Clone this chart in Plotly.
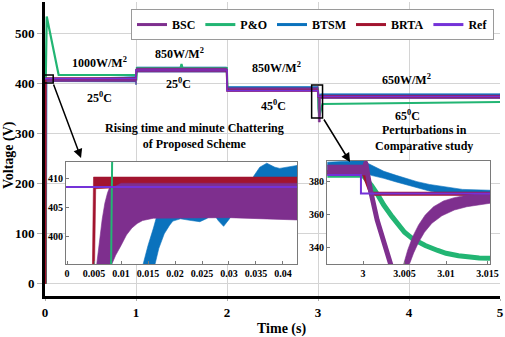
import plotly.graph_objects as go

# ---------------- colours ----------------
C_BSC = "#7E2F8E"
C_PO = "#22B573"
C_BTSM = "#0A72BD"
C_BRTA = "#A2142F"
C_REF = "#7432D8"

names = ["BSC", "P&O", "BTSM", "BRTA", "Ref"]
colors = [C_BSC, C_PO, C_BTSM, C_BRTA, C_REF]

# ---------------- main plot data (time s, voltage V) ----------------
t_ref = [0, 1, 1, 2, 2, 3, 3, 5]
v_ref = [408.6, 408.6, 426, 426, 384.5, 384.5, 373, 373]

# BSC chattering envelope (upper / lower edge)
bsc_up_t = [0, 0.0055, 0.009, 0.999, 1.0, 1.006, 1.997, 2.003, 2.9995, 3.0005, 3.004, 3.025, 3.03, 5]
bsc_up_v = [0, 0, 411, 411, 404, 430, 430, 390.3, 390.3, 393, 322, 322, 376, 376]
bsc_lo_t = [0, 0.0083, 0.016, 0.999, 1.0, 1.01, 1.997, 2.006, 2.9995, 3.03, 5]
bsc_lo_v = [0, 0, 403, 403, 397, 422, 422, 384, 384, 369, 369]

# BTSM chattering envelope
btsm_up_t = [0, 0.0141, 0.02, 0.999, 1.0, 1.006, 1.997, 2.003, 3.0, 3.005, 3.012, 3.03, 5]
btsm_up_v = [0, 0, 406, 413, 406, 432, 432, 393, 393, 382, 375.5, 378.5, 378.5]
btsm_lo_t = [0, 0.0163, 0.02, 0.999, 1.0, 1.01, 1.997, 2.006, 3.0, 3.005, 3.012, 3.03, 5]
btsm_lo_v = [0, 0, 403, 402, 396, 422, 422, 384, 386, 378, 372, 369.5, 369.5]

t_po = [0, 0.0079, 0.0086, 0.019, 0.15, 0.999, 1.003, 1.01, 1.49, 1.5, 1.51, 1.997, 2.006,
        2.9995, 3.005, 3.015, 3.03, 3.05, 5]
v_po = [0, 0, 410, 533, 416, 416, 405, 430, 430, 438, 430, 430, 388,
        388, 349, 334, 345, 358, 362]

t_brta = [0, 0.0048, 0.0050, 0.999, 1.003, 1.997, 2.003, 3.0, 3.001, 5]
v_brta = [0, 0, 408.6, 408.6, 426, 426, 384.5, 384.5, 373, 373]

# ---------------- inset 1 (0 - 0.043 s) ----------------
i1_btsm_up_t = [0.0141, 0.015, 0.016, 0.0166, 0.018, 0.0196, 0.021, 0.023, 0.0246, 0.026, 0.027,
                0.028, 0.029, 0.030, 0.0308, 0.032, 0.0333, 0.0346, 0.0357, 0.037, 0.0385,
                0.0394, 0.041, 0.0426]
i1_btsm_up_v = [395.3, 398.5, 401.5, 403.5, 404.5, 405, 405, 405, 405, 405.5, 406,
                406, 405.5, 406, 406.5, 407, 408, 410.5, 412, 412.7, 412,
                411.8, 412, 412.3]
i1_btsm_lo_t = [0.0163, 0.017, 0.018, 0.019, 0.0196, 0.021, 0.023, 0.0246, 0.026, 0.027, 0.028,
                0.029, 0.0300, 0.0308, 0.032, 0.0333, 0.0346, 0.036, 0.0426]
i1_btsm_lo_v = [395.3, 398, 400.5, 402, 402.7, 403.1, 402.8, 402.6, 403.2, 404.2, 402.8,
                401.8, 403.0, 404.1, 403.6, 404.7, 405.5, 406, 406]

i1_bsc_up_t = [0.0055, 0.006, 0.0065, 0.007, 0.0075, 0.008, 0.009, 0.0426]
i1_bsc_up_v = [395.3, 399.5, 403, 405.8, 407.6, 408.8, 409.6, 409.6]
i1_bsc_lo_t = [0.0083, 0.009, 0.010, 0.011, 0.012, 0.013, 0.014, 0.016, 0.030, 0.0426]
i1_bsc_lo_v = [395.3, 396.8, 398.5, 400.3, 401.5, 402.3, 402.8, 403.2, 403.3, 402.9]

i1_brta_up_t = [0.0047, 0.0049, 0.0426]
i1_brta_up_v = [395.3, 410.3, 410.3]
i1_brta_lo_t = [0.0051, 0.0053, 0.008, 0.010, 0.0426]
i1_brta_lo_v = [395.3, 408.3, 408.4, 409.3, 409.3]

i1_po_t = [0.0081, 0.0084]
i1_po_v = [390, 418]

i1_ref_t = [-0.0002, 0.0426]
i1_ref_v = [408.6, 408.6]

# ---------------- inset 2 (2.996 - 3.015 s) ----------------
i2_btsm_up_t = [2.9957, 2.9985, 3.0, 3.0005, 3.0015, 3.0025, 3.004, 3.005, 3.0065, 3.008, 3.01,
                3.012, 3.0153]
i2_btsm_up_v = [392.0, 392.5, 393.0, 391.5, 389, 386.5, 384, 382.3, 380.2, 378.5, 376.8,
                375.5, 375]
i2_btsm_lo_t = [2.9957, 3.0, 3.001, 3.0025, 3.004, 3.005, 3.0065, 3.008, 3.01, 3.012, 3.0153]
i2_btsm_lo_v = [386, 386, 384, 382.2, 380, 378.2, 376.5, 374.5, 372.5, 372, 372.3]

i2_po_t = [2.9957, 3.0, 3.0005, 3.001, 3.0018, 3.0025, 3.0035, 3.005, 3.006, 3.0075, 3.009,
           3.01, 3.0115, 3.0125, 3.014, 3.0153]
i2_po_v = [384.0, 384.0, 381, 378, 372, 366, 359, 349.5, 345.5, 341.5, 338.5,
           336.8, 335.3, 334.6, 334, 333.8]

i2_brta_t = [2.9957, 3.0001, 3.0010, 3.0153]
i2_brta_v = [386, 385, 372.8, 372.8]

i2_bsc_pre_up_t = [2.9957, 3.0, 3.0002, 3.0005]
i2_bsc_pre_up_v = [390.3, 390.3, 393, 393]
i2_bsc_pre_lo_t = [2.9957, 3.0005]
i2_bsc_pre_lo_v = [384.2, 384.2]

i2_bsc_fall_t = [3.0003, 3.0009, 3.0017, 3.0025, 3.0034]
i2_bsc_fall_v = [392, 375, 357, 343, 329]

i2_bsc_rise_up_t = [3.0049, 3.0054, 3.006, 3.0067, 3.0075, 3.0085, 3.0097, 3.011, 3.0125, 3.014, 3.0153]
i2_bsc_rise_up_v = [330.3, 339, 347, 354, 360, 365, 368.5, 370.5, 372, 372.8, 373.2]
i2_bsc_rise_lo_t = [3.0056, 3.0061, 3.0067, 3.0074, 3.0083, 3.0095, 3.011, 3.0125, 3.014, 3.0153]
i2_bsc_rise_lo_v = [330.3, 337, 343.5, 349.5, 355, 359.5, 363, 365, 366.3, 367.1]

i2_ref_t = [2.9957, 2.99975, 2.99975, 3.0153]
i2_ref_v = [384.2, 384.2, 373, 373]

# ---------------- axis ranges / ticks ----------------
X_MAIN = [0, 5]
Y_MAIN = [-26, 562]
X_TICKS = [0, 1, 2, 3, 4, 5]
Y_TICKS = [0, 100, 200, 300, 400, 500]
X_I1 = [-0.0002, 0.0426]
Y_I1 = [395.3, 412.9]
X_I1_TICKS = [0, 0.005, 0.01, 0.015, 0.02, 0.025, 0.03, 0.035, 0.04]
X_I1_TEXT = ["0", "0.005", "0.01", "0.015", "0.02", "0.025", "0.03", "0.035", "0.04"]
Y_I1_TICKS = [400, 405, 410]
X_I2 = [2.99566, 3.0153]
Y_I2 = [330.3, 392.7]
X_I2_TICKS = [3, 3.005, 3.01, 3.015]
X_I2_TEXT = ["3", "3.005", "3.01", "3.015"]
Y_I2_TICKS = [340, 360, 380]

FONT = "Liberation Serif, Times New Roman, Times, serif"

fig = go.Figure()

# legend-only entries
for n, c in zip(names, colors):
    fig.add_trace(go.Scatter(x=[None], y=[None], mode="lines", name=n,
                             line=dict(color=c, width=3)))


def line(x, y, c, w, xa="x", ya="y"):
    fig.add_trace(go.Scatter(x=x, y=y, mode="lines", line=dict(color=c, width=w),
                             xaxis=xa, yaxis=ya, showlegend=False, hoverinfo="skip"))


def band(tu, vu, tl, vl, c, xa="x", ya="y"):
    # polygon: upper edge left->right, lower edge right->left
    fig.add_trace(go.Scatter(x=list(tu) + list(tl)[::-1], y=list(vu) + list(vl)[::-1],
                             mode="lines", fill="toself", fillcolor=c,
                             line=dict(color=c, width=0.6),
                             xaxis=xa, yaxis=ya, showlegend=False, hoverinfo="skip"))


# main traces
band(btsm_up_t, btsm_up_v, btsm_lo_t, btsm_lo_v, C_BTSM)
line(t_po, v_po, C_PO, 2.2)
band(bsc_up_t, bsc_up_v, bsc_lo_t, bsc_lo_v, C_BSC)
line(t_brta, v_brta, C_BRTA, 2)
line(t_ref, v_ref, C_REF, 1.5)

# inset 1
band(i1_btsm_up_t, i1_btsm_up_v, i1_btsm_lo_t, i1_btsm_lo_v, C_BTSM, "x2", "y2")
band(i1_bsc_up_t, i1_bsc_up_v, i1_bsc_lo_t, i1_bsc_lo_v, C_BSC, "x2", "y2")
band(i1_brta_up_t, i1_brta_up_v, i1_brta_lo_t, i1_brta_lo_v, C_BRTA, "x2", "y2")
line(i1_po_t, i1_po_v, C_PO, 2, "x2", "y2")
line(i1_ref_t, i1_ref_v, C_REF, 2, "x2", "y2")

# inset 2
band(i2_btsm_up_t, i2_btsm_up_v, i2_btsm_lo_t, i2_btsm_lo_v, C_BTSM, "x3", "y3")
line(i2_po_t, i2_po_v, C_PO, 5, "x3", "y3")
line(i2_brta_t, i2_brta_v, C_BRTA, 4, "x3", "y3")
band(i2_bsc_pre_up_t, i2_bsc_pre_up_v, i2_bsc_pre_lo_t, i2_bsc_pre_lo_v, C_BSC, "x3", "y3")
line(i2_bsc_fall_t, i2_bsc_fall_v, C_BSC, 5, "x3", "y3")
band(i2_bsc_rise_up_t, i2_bsc_rise_up_v, i2_bsc_rise_lo_t, i2_bsc_rise_lo_v, C_BSC, "x3", "y3")
line(i2_ref_t, i2_ref_v, C_REF, 2, "x3", "y3")

tickf = dict(family=FONT, size=13, color="black", weight="bold")
insetf = dict(family=FONT, size=10, color="black", weight="bold")

inset_common = dict(showline=True, linecolor="#7a7a7a", linewidth=1, mirror=True,
                    ticks="inside", ticklen=3, tickcolor="#7a7a7a", showgrid=False,
                    zeroline=False, tickfont=insetf, automargin=False)

fig.update_layout(
    width=505, height=337,
    margin=dict(l=45, r=5, t=2, b=41),
    paper_bgcolor="white", plot_bgcolor="white",
    font=dict(family=FONT, size=12, color="black", weight="bold"),
    legend=dict(orientation="h", x=0.189, y=0.976, xanchor="left", yanchor="top",
                bgcolor="white", bordercolor="#9a9a9a", borderwidth=1,
                font=dict(family=FONT, size=12, color="black", weight="bold")),
    xaxis=dict(domain=[0, 1], range=X_MAIN, tickvals=X_TICKS, showgrid=True,
               gridcolor="#d4d4d4", gridwidth=1, showline=True, linewidth=3,
               linecolor="black", ticks="outside", ticklen=2, tickcolor="#b0b0b0",
               zeroline=False, tickfont=tickf, layer="below traces", automargin=False),
    yaxis=dict(domain=[0, 1], range=Y_MAIN, tickvals=Y_TICKS, showgrid=True,
               gridcolor="#d4d4d4", gridwidth=1, showline=True, linewidth=3,
               linecolor="black", ticks="outside", ticklen=5, tickcolor="#b0b0b0",
               zeroline=False, tickfont=tickf, layer="below traces", automargin=False),
    xaxis2=dict(domain=[0.04615, 0.55385], anchor="y2", range=X_I1,
                tickvals=X_I1_TICKS, ticktext=X_I1_TEXT, **inset_common),
    yaxis2=dict(domain=[0.10884, 0.45578], anchor="x2", range=Y_I1,
                tickvals=Y_I1_TICKS, **inset_common),
    xaxis3=dict(domain=[0.61978, 0.97802], anchor="y3", range=X_I2,
                tickvals=X_I2_TICKS, ticktext=X_I2_TEXT, **inset_common),
    yaxis3=dict(domain=[0.10884, 0.45918], anchor="x3", range=Y_I2,
                tickvals=Y_I2_TICKS, **inset_common),
)


def px_(t):
    return (t - X_MAIN[0]) / (X_MAIN[1] - X_MAIN[0])


def py_(v):
    return (v - Y_MAIN[0]) / (Y_MAIN[1] - Y_MAIN[0])


# zoom boxes
for (t0, t1, v0, v1) in [(-0.02, 0.09, 400, 416), (2.93, 3.05, 330, 396)]:
    fig.add_shape(type="rect", xref="paper", yref="paper",
                  x0=px_(t0), x1=px_(t1), y0=py_(v0), y1=py_(v1),
                  line=dict(color="black", width=1.5), fillcolor="rgba(0,0,0,0)")

annf = dict(family=FONT, size=12, color="black", weight="bold")
texts = [
    ("1000W/M<sup>2</sup>", 0.604, 442),
    ("25<sup>0</sup>C", 0.599, 372),
    ("850W/M<sup>2</sup>", 1.473, 460),
    ("25<sup>0</sup>C", 1.462, 400),
    ("850W/M<sup>2</sup>", 2.549, 431),
    ("45<sup>0</sup>C", 2.516, 356),
    ("650W/M<sup>2</sup>", 3.967, 408),
    ("65<sup>0</sup>C", 3.978, 336),
    ("Rising time and minute Chattering<br>of Proposed Scheme", 1.643, 295),
    ("Perturbations in<br>Comparative study", 4.170, 291),
]
for txt, tx, ty in texts:
    fig.add_annotation(x=tx, y=ty, xref="x", yref="y", text=txt, showarrow=False,
                       font=annf, xanchor="center", yanchor="middle")

# arrows
for (hx, hy, tx, ty) in [(0.396, 250, 0.088, 400), (3.352, 242, 3.055, 330)]:
    fig.add_annotation(x=hx, y=hy, xref="x", yref="y", ax=tx, ay=ty, axref="x", ayref="y",
                       text="", showarrow=True, arrowhead=2, arrowsize=1.2,
                       arrowwidth=1.5, arrowcolor="black")

# axis titles
fig.add_annotation(x=-0.0791, y=0.4796, xref="paper", yref="paper", text="Voltage (V)",
                   textangle=-90, showarrow=False, xanchor="center", yanchor="middle",
                   font=dict(family=FONT, size=14, color="black", weight="bold"))
fig.add_annotation(x=0.5187, y=-0.1122, xref="paper", yref="paper", text="Time (s)",
                   showarrow=False, xanchor="center", yanchor="middle",
                   font=dict(family=FONT, size=14, color="black", weight="bold"))

fig.write_html("out.html", config={"displayModeBar": False},
               post_script="document.body.style.margin='0px';")
